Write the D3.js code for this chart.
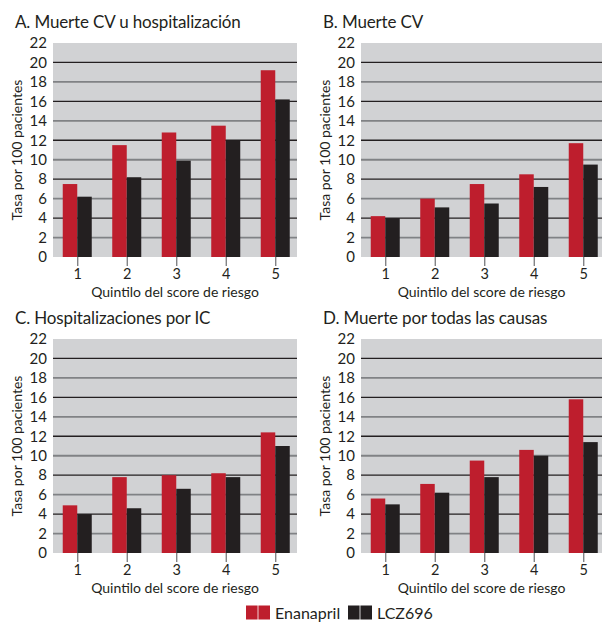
<!DOCTYPE html>
<html>
<head>
<meta charset="utf-8">
<script src="https://cdn.jsdelivr.net/npm/d3@7"></script>
<style>
  html, body { margin: 0; padding: 0; background: #ffffff; }
  svg { display: block; }
  text { font-family: Lato, "Open Sans", sans-serif; fill: #231f20; }
</style>
</head>
<body>
<svg id="chart" width="605" height="622"></svg>
<script>
// Quintiles of the risk score
const categories = ["1", "2", "3", "4", "5"];
const seriesNames = ["Enanapril", "LCZ696"];
const yTicks = [0, 2, 4, 6, 8, 10, 12, 14, 16, 18, 20, 22];

const panelTitles = [
  "A. Muerte CV u hospitalización",
  "B. Muerte CV",
  "C. Hospitalizaciones por IC",
  "D. Muerte por todas las causas"
];

// Event rates per 100 patients
const enalaprilA = [7.5, 11.5, 12.8, 13.5, 19.2];
const lcz696A    = [6.2, 8.2, 9.9, 12.0, 16.2];
const enalaprilB = [4.2, 6.0, 7.5, 8.5, 11.7];
const lcz696B    = [4.0, 5.1, 5.5, 7.2, 9.5];
const enalaprilC = [4.9, 7.8, 8.0, 8.2, 12.4];
const lcz696C    = [4.0, 4.6, 6.6, 7.8, 11.0];
const enalaprilD = [5.6, 7.1, 9.5, 10.6, 15.8];
const lcz696D    = [5.0, 6.2, 7.8, 10.0, 11.4];

const yTitle = "Tasa por 100 pacientes";
const xTitle = "Quintilo del score de riesgo";

const colors = { "Enanapril": "#be1e2d", "LCZ696": "#231f20" };

const svg = d3.select("#chart");

const layout = [
  { left: 53,  top: 43,  width: 244, height: 214, series: [enalaprilA, lcz696A] },
  { left: 361, top: 43,  width: 241, height: 214, series: [enalaprilB, lcz696B] },
  { left: 53,  top: 339, width: 244, height: 214, series: [enalaprilC, lcz696C] },
  { left: 361, top: 339, width: 241, height: 214, series: [enalaprilD, lcz696D] }
];

layout.forEach((p, i) => {
  const g = svg.append("g");

  const y = d3.scaleLinear().domain([0, 22]).range([p.top + p.height, p.top]);
  const step = 49.5;
  const x0 = d3.scaleBand()
    .domain(categories)
    .range([p.left - 0.5, p.left - 0.5 + step * categories.length])
    .paddingInner(0.414)
    .paddingOuter(0.207);
  const x1 = d3.scaleBand().domain(seriesNames).range([0, x0.bandwidth()]);

  // plot background
  g.append("rect")
    .attr("x", p.left).attr("y", p.top)
    .attr("width", p.width).attr("height", p.height)
    .attr("fill", "#d1d2d4");

  // horizontal grid: multiples of 4 dark, the rest gray
  g.selectAll("line.grid")
    .data(yTicks.filter(t => t > 0 && t < 22))
    .join("line")
    .attr("x1", p.left).attr("x2", p.left + p.width)
    .attr("y1", d => y(d)).attr("y2", d => y(d))
    .attr("stroke", d => d % 4 === 0 ? "#231f20" : "#808285")
    .attr("stroke-width", d => d % 4 === 0 ? 1.3 : 1.8);

  // bars
  const rows = categories.map((c, k) => ({ cat: c, vals: seriesNames.map((s, j) => ({ s, v: p.series[j][k] })) }));
  g.selectAll("g.grp")
    .data(rows)
    .join("g")
    .attr("transform", d => `translate(${x0(d.cat)},0)`)
    .selectAll("rect")
    .data(d => d.vals)
    .join("rect")
    .attr("x", d => x1(d.s))
    .attr("y", d => y(d.v))
    .attr("width", x1.bandwidth())
    .attr("height", d => y(0) - y(d.v))
    .attr("fill", d => colors[d.s]);

  // y axis labels
  const yAxis = d3.axisLeft(y).tickValues(yTicks).tickSize(0).tickPadding(6);
  const ya = g.append("g").attr("transform", `translate(${p.left},0)`).call(yAxis);
  ya.select(".domain").remove();
  ya.selectAll("text").style("font-size", "15px").style("font-family", "Lato").attr("fill", "#231f20");

  // x axis with short ticks at group centres
  const xCenter = d3.scalePoint().domain(categories)
    .range([x0(categories[0]) + x0.bandwidth() / 2, x0(categories[4]) + x0.bandwidth() / 2]);
  const xAxis = d3.axisBottom(xCenter).tickSize(9).tickPadding(3);
  const xa = g.append("g").attr("transform", `translate(0,${p.top + p.height})`).call(xAxis);
  xa.select(".domain").remove();
  xa.selectAll("line").attr("stroke", "#6d6e71").attr("stroke-width", 1.2);
  xa.selectAll("text").style("font-size", "14.5px").style("font-family", "Lato").attr("fill", "#231f20");

  // titles
  g.append("text")
    .attr("x", p.left - 38).attr("y", p.top - 15)
    .style("font-size", "17px")
    .style("letter-spacing", "-0.15px")
    .text(panelTitles[i]);

  g.append("text")
    .attr("transform", `translate(${p.left - 31},${p.top + p.height / 2}) rotate(-90)`)
    .attr("text-anchor", "middle")
    .style("font-size", "14px")
    .text(yTitle);

  g.append("text")
    .attr("x", p.left + p.width / 2).attr("y", p.top + p.height + 40)
    .attr("text-anchor", "middle")
    .style("font-size", "14px")
    .text(xTitle);
});

// legend
const legend = svg.append("g").attr("transform", "translate(246,605.5)");
const legendX = [0, 102];
seriesNames.forEach((s, i) => {
  const lg = legend.append("g").attr("transform", `translate(${legendX[i]},0)`);
  lg.append("rect").attr("x", 0).attr("y", 0).attr("width", 11.6).attr("height", 14).attr("fill", colors[s]);
  lg.append("rect").attr("x", 12.4).attr("y", 0).attr("width", 11.6).attr("height", 14).attr("fill", colors[s]);
  lg.append("text").attr("x", 29).attr("y", 13.5).style("font-size", "16px").text(s);
});
</script>
</body>
</html>
